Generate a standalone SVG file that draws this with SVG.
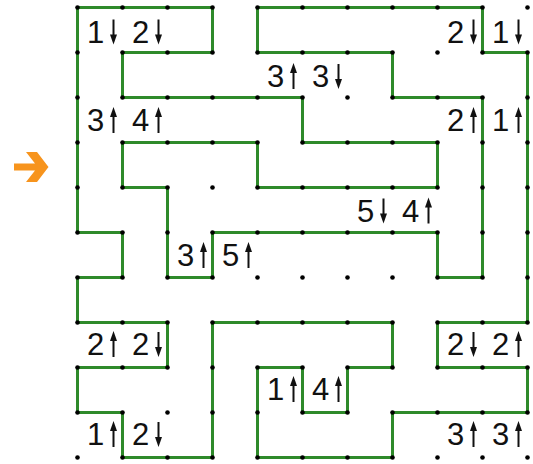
<svg xmlns="http://www.w3.org/2000/svg" xmlns:xlink="http://www.w3.org/1999/xlink" width="533" height="464" viewBox="0 0 533 464">
<style>
.wall{fill:none;stroke:#2e8a2a;stroke-width:3;stroke-linejoin:miter;stroke-linecap:square}
.dot{fill:#000}
.num{font-family:"Liberation Sans",Arial,sans-serif;font-size:31px;fill:#111;text-anchor:middle}
.ar{stroke:#111;stroke-width:2;fill:none}
.ah{fill:#111}
</style>
<defs>
<g id="dn"><line class="ar" x1="0" y1="-25" x2="0" y2="-7"/><polygon class="ah" points="-3.5,-10 3.5,-10 0,0"/></g>
<g id="up"><line class="ar" x1="0" y1="7" x2="0" y2="26"/><polygon class="ah" points="-3.5,10 3.5,10 0,0"/></g>
<circle id="d" class="dot" r="2.3"/>
</defs>
<rect width="533" height="464" fill="#fff"/>
<g id="entry-arrow">
<polygon fill="#f7941d" points="14,163.5 35,163.5 26,152 37,152 48.5,167 37,182 26,182 35,170.5 14,170.5"/>
</g>
<g id="connectors">
<path class="wall" d="M77.5,7.5 H212.5 V52.5 H122.5 V97.5 H302.5 V142.5 H437.5 V187.5 H257.5 V142.5 H122.5 V187.5 H167.5 V277.5 H212.5 V232.5 H437.5 V277.5 H482.5 V97.5 H392.5 V52.5 H257.5 V7.5 H482.5 V52.5 H527.5 V322.5 H437.5 V367.5 H527.5 V412.5 H392.5 V457.5 H257.5 V367.5 H302.5 V412.5 H347.5 V367.5 H392.5 V322.5 H212.5 V457.5 H122.5 V412.5 H77.5 V367.5 H167.5 V322.5 H77.5 V277.5 H122.5 V232.5 H77.5 Z"/>
</g>
<g id="dots">
<g transform="translate(0,7.5)"><use href="#d" x="77.5"/><use href="#d" x="122.5"/><use href="#d" x="167.5"/><use href="#d" x="212.5"/><use href="#d" x="257.5"/><use href="#d" x="302.5"/><use href="#d" x="347.5"/><use href="#d" x="392.5"/><use href="#d" x="437.5"/><use href="#d" x="482.5"/><use href="#d" x="527.5"/></g>
<g transform="translate(0,52.5)"><use href="#d" x="77.5"/><use href="#d" x="122.5"/><use href="#d" x="167.5"/><use href="#d" x="212.5"/><use href="#d" x="257.5"/><use href="#d" x="302.5"/><use href="#d" x="347.5"/><use href="#d" x="392.5"/><use href="#d" x="437.5"/><use href="#d" x="482.5"/><use href="#d" x="527.5"/></g>
<g transform="translate(0,97.5)"><use href="#d" x="77.5"/><use href="#d" x="122.5"/><use href="#d" x="167.5"/><use href="#d" x="212.5"/><use href="#d" x="257.5"/><use href="#d" x="302.5"/><use href="#d" x="347.5"/><use href="#d" x="392.5"/><use href="#d" x="437.5"/><use href="#d" x="482.5"/><use href="#d" x="527.5"/></g>
<g transform="translate(0,142.5)"><use href="#d" x="77.5"/><use href="#d" x="122.5"/><use href="#d" x="167.5"/><use href="#d" x="212.5"/><use href="#d" x="257.5"/><use href="#d" x="302.5"/><use href="#d" x="347.5"/><use href="#d" x="392.5"/><use href="#d" x="437.5"/><use href="#d" x="482.5"/><use href="#d" x="527.5"/></g>
<g transform="translate(0,187.5)"><use href="#d" x="77.5"/><use href="#d" x="122.5"/><use href="#d" x="167.5"/><use href="#d" x="212.5"/><use href="#d" x="257.5"/><use href="#d" x="302.5"/><use href="#d" x="347.5"/><use href="#d" x="392.5"/><use href="#d" x="437.5"/><use href="#d" x="482.5"/><use href="#d" x="527.5"/></g>
<g transform="translate(0,232.5)"><use href="#d" x="77.5"/><use href="#d" x="122.5"/><use href="#d" x="167.5"/><use href="#d" x="212.5"/><use href="#d" x="257.5"/><use href="#d" x="302.5"/><use href="#d" x="347.5"/><use href="#d" x="392.5"/><use href="#d" x="437.5"/><use href="#d" x="482.5"/><use href="#d" x="527.5"/></g>
<g transform="translate(0,277.5)"><use href="#d" x="77.5"/><use href="#d" x="122.5"/><use href="#d" x="167.5"/><use href="#d" x="212.5"/><use href="#d" x="257.5"/><use href="#d" x="302.5"/><use href="#d" x="347.5"/><use href="#d" x="392.5"/><use href="#d" x="437.5"/><use href="#d" x="482.5"/><use href="#d" x="527.5"/></g>
<g transform="translate(0,322.5)"><use href="#d" x="77.5"/><use href="#d" x="122.5"/><use href="#d" x="167.5"/><use href="#d" x="212.5"/><use href="#d" x="257.5"/><use href="#d" x="302.5"/><use href="#d" x="347.5"/><use href="#d" x="392.5"/><use href="#d" x="437.5"/><use href="#d" x="482.5"/><use href="#d" x="527.5"/></g>
<g transform="translate(0,367.5)"><use href="#d" x="77.5"/><use href="#d" x="122.5"/><use href="#d" x="167.5"/><use href="#d" x="212.5"/><use href="#d" x="257.5"/><use href="#d" x="302.5"/><use href="#d" x="347.5"/><use href="#d" x="392.5"/><use href="#d" x="437.5"/><use href="#d" x="482.5"/><use href="#d" x="527.5"/></g>
<g transform="translate(0,412.5)"><use href="#d" x="77.5"/><use href="#d" x="122.5"/><use href="#d" x="167.5"/><use href="#d" x="212.5"/><use href="#d" x="257.5"/><use href="#d" x="302.5"/><use href="#d" x="347.5"/><use href="#d" x="392.5"/><use href="#d" x="437.5"/><use href="#d" x="482.5"/><use href="#d" x="527.5"/></g>
<g transform="translate(0,457.5)"><use href="#d" x="77.5"/><use href="#d" x="122.5"/><use href="#d" x="167.5"/><use href="#d" x="212.5"/><use href="#d" x="257.5"/><use href="#d" x="302.5"/><use href="#d" x="347.5"/><use href="#d" x="392.5"/><use href="#d" x="437.5"/><use href="#d" x="482.5"/><use href="#d" x="527.5"/></g>
</g>
<g id="labels">
<g id="l1"><text class="num" x="95.5" y="42.5">1</text><use href="#dn" x="113.5" y="44.5"/><text class="num" x="140.5" y="42.5">2</text><use href="#dn" x="158.5" y="44.5"/></g>
<g id="l2"><text class="num" x="455.5" y="42.5">2</text><use href="#dn" x="473.5" y="44.5"/><text class="num" x="500.5" y="42.5">1</text><use href="#dn" x="518.5" y="44.5"/></g>
<g id="l3"><text class="num" x="275.5" y="87">3</text><use href="#up" x="293.5" y="63"/><text class="num" x="320.5" y="87">3</text><use href="#dn" x="338.5" y="89"/></g>
<g id="l4"><text class="num" x="95.5" y="131">3</text><use href="#up" x="113.5" y="107"/><text class="num" x="140.5" y="131">4</text><use href="#up" x="158.5" y="107"/></g>
<g id="l5"><text class="num" x="455.5" y="131">2</text><use href="#up" x="473.5" y="107"/><text class="num" x="500.5" y="131">1</text><use href="#up" x="518.5" y="107"/></g>
<g id="l6"><text class="num" x="365.5" y="221.5">5</text><use href="#dn" x="383.5" y="223.5"/><text class="num" x="410.5" y="221.5">4</text><use href="#up" x="428.5" y="197.5"/></g>
<g id="l7"><text class="num" x="185.5" y="266">3</text><use href="#up" x="203.5" y="242"/><text class="num" x="230.5" y="266">5</text><use href="#up" x="248.5" y="242"/></g>
<g id="l8"><text class="num" x="95.5" y="355">2</text><use href="#up" x="113.5" y="331"/><text class="num" x="140.5" y="355">2</text><use href="#dn" x="158.5" y="357"/></g>
<g id="l9"><text class="num" x="455.5" y="355">2</text><use href="#dn" x="473.5" y="357"/><text class="num" x="500.5" y="355">2</text><use href="#up" x="518.5" y="331"/></g>
<g id="l10"><text class="num" x="275.5" y="400">1</text><use href="#up" x="293.5" y="376"/><text class="num" x="320.5" y="400">4</text><use href="#up" x="338.5" y="376"/></g>
<g id="l11"><text class="num" x="95.5" y="445">1</text><use href="#up" x="113.5" y="421"/><text class="num" x="140.5" y="445">2</text><use href="#dn" x="158.5" y="447"/></g>
<g id="l12"><text class="num" x="455.5" y="445">3</text><use href="#up" x="473.5" y="421"/><text class="num" x="500.5" y="445">3</text><use href="#up" x="518.5" y="421"/></g>
</g>
</svg>
